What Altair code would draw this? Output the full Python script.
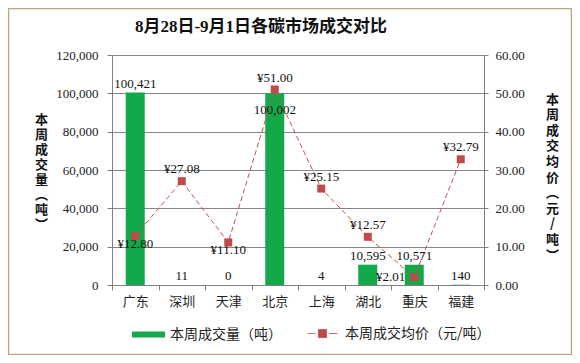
import altair as alt
import pandas as pd

categories = ["广东", "深圳", "天津", "北京", "上海", "湖北", "重庆", "福建"]
volumes = [100421, 11, 0, 100002, 4, 10595, 10571, 140]
prices = [12.80, 27.08, 11.10, 51.00, 25.15, 12.57, 2.01, 32.79]

vol_name = "本周成交量（吨）"
price_name = "本周成交均价（元/吨）"
title_text = "8月28日-9月1日各碳市场成交对比"

df = pd.DataFrame({
    "cat": categories,
    "vol": volumes,
    "price": prices,
    "s1": [vol_name] * len(categories),
    "s2": [price_name] * len(categories),
})
df["vol_label"] = df["vol"].map(lambda v: f"{v:,}")
df["price_label"] = df["price"].map(lambda v: f"¥{v:.2f}")

GREEN = "#13a84a"
RED = "#be4b48"
SERIF = "Liberation Serif, Noto Sans CJK SC"
CJK = "Noto Sans CJK SC"

W, H = 372, 230

xenc = alt.X("cat:N", sort=categories, title=None,
             scale=alt.Scale(paddingInner=0, paddingOuter=0),
             axis=alt.Axis(labelFont=CJK, labelFontSize=13, labelColor="#222",
                           labelAngle=0, tickBand="extent", tickSize=5,
                           tickColor="#808080", domainColor="#808080",
                           labelPadding=5, grid=False))

vol_axis = alt.Axis(values=[0, 20000, 40000, 60000, 80000, 100000, 120000],
                    format=",.0f", labelFont=SERIF, labelFontSize=13,
                    labelColor="#222", tickSize=5, labelPadding=9,
                    tickColor="#808080", domainColor="#808080",
                    grid=True, gridColor="#868686",
                    title=list("本周成交量") + ["︵", "吨", "︶"],
                    titleAngle=0, titleFont=CJK, titleFontSize=13,
                    titleFontWeight="bold", titleLineHeight=15,
                    titleX=-71, titleY=64, titleAlign="center",
                    titleBaseline="middle", titleColor="#111")
vol_scale = alt.Scale(domain=[0, 120000])


def yvol():
    return alt.Y("vol:Q", scale=vol_scale, axis=vol_axis)


price_axis = alt.Axis(orient="right", values=[0, 10, 20, 30, 40, 50, 60],
                      format=".2f", labelFont=SERIF, labelFontSize=13,
                      labelColor="#222", tickSize=4, labelPadding=7,
                      tickColor="#808080", domainColor="#808080", grid=False,
                      title=list("本周成交均价") + ["︵", "元", "/", "吨", "︶"],
                      titleAngle=0, titleFont=CJK, titleFontSize=13,
                      titleFontWeight="bold", titleLineHeight=15.6,
                      titleX=68, titleY=44, titleAlign="center",
                      titleBaseline="middle", titleColor="#111")
price_scale = alt.Scale(domain=[0, 60])


def yprice():
    return alt.Y("price:Q", scale=price_scale, axis=price_axis)


def xcat():
    return alt.X("cat:N", sort=categories)


base = alt.Chart(df)

bars = base.mark_bar(size=19).encode(
    x=xenc,
    y=yvol(),
    fill=alt.Fill("s1:N", scale=alt.Scale(range=[GREEN]),
                  legend=alt.Legend(title=None, orient="none", legendX=20, legendY=263,
                                    symbolType="M-1,-0.18H1V0.18H-1Z", symbolSize=1089,
                                    symbolStrokeWidth=0, labelFont=CJK, labelFontSize=14,
                                    labelColor="#222", labelOffset=5)),
)

vol_text_above = base.transform_filter(alt.datum.cat != "北京").mark_text(
    font=SERIF, fontSize=13, baseline="bottom", dy=-2, color="#111"
).encode(x=xcat(), y=yvol(), text="vol_label:N")

vol_text_inside = base.transform_filter(alt.datum.cat == "北京").mark_text(
    font=SERIF, fontSize=13, baseline="top", dy=11, color="#111"
).encode(x=xcat(), y=yvol(), text="vol_label:N")

vol_layer = alt.layer(bars, vol_text_above, vol_text_inside)

line = base.mark_line(strokeDash=[5, 3], strokeWidth=1, color="#c77c7a").encode(
    x=xcat(),
    y=yprice(),
    stroke=alt.Stroke("s2:N", scale=alt.Scale(range=["#c0504d"]),
                      legend=alt.Legend(title=None, orient="none", legendX=195, legendY=263,
                                        symbolType="M-1,0H-0.45M0.45,0H1M-0.27,-0.27H0.27V0.27H-0.27Z",
                                        symbolSize=900, symbolStrokeWidth=1,
                                        symbolFillColor="#be4b48",
                                        symbolDash=[1, 0],
                                        labelFont=CJK, labelFontSize=14,
                                        labelColor="#222", labelOffset=7)),
)

pts = base.mark_square(size=64, color=RED, opacity=1, filled=True).encode(
    x=xcat(), y=yprice(),
)

price_above = base.transform_filter(
    "indexof(['广东','天津','重庆'], datum.cat) < 0"
).mark_text(font=SERIF, fontSize=13, baseline="bottom", dy=-5, color="#111").encode(
    x=xcat(), y=yprice(), text="price_label:N",
)
price_below = base.transform_filter(
    "indexof(['广东','天津'], datum.cat) >= 0"
).mark_text(font=SERIF, fontSize=13, baseline="top", dy=2, color="#111").encode(
    x=xcat(), y=yprice(), text="price_label:N",
)
price_left = base.transform_filter(alt.datum.cat == "重庆").mark_text(
    font=SERIF, fontSize=13, align="right", baseline="middle", dx=-9, color="#111"
).encode(
    x=xcat(), y=yprice(), text="price_label:N",
)

price_layer = alt.layer(line, pts, price_above, price_below, price_left)

deco = alt.Chart(pd.DataFrame({"t": [title_text]}))

border = deco.mark_rect(
    fill=None, stroke="#c0a47c", strokeWidth=1.5, clip=False
).encode(
    x=alt.value(-103.5), x2=alt.value(459.5),
    y=alt.value(-46.5), y2=alt.value(299.5),
)

title = deco.mark_text(
    font=SERIF, fontSize=17, fontWeight="bold", color="#111",
    align="center", baseline="middle"
).encode(x=alt.value(149), y=alt.value(-28), text="t:N")

chart = alt.layer(
    vol_layer, price_layer, border, title,
).resolve_scale(
    y="independent"
).properties(
    width=W, height=H,
    autosize=alt.AutoSizeParams(type="none"),
    padding={"left": 104, "top": 47, "right": 88, "bottom": 70},
).configure_view(stroke=None).configure(background="white")

chart.save("out.html", embed_options={"renderer": "svg", "actions": False})
